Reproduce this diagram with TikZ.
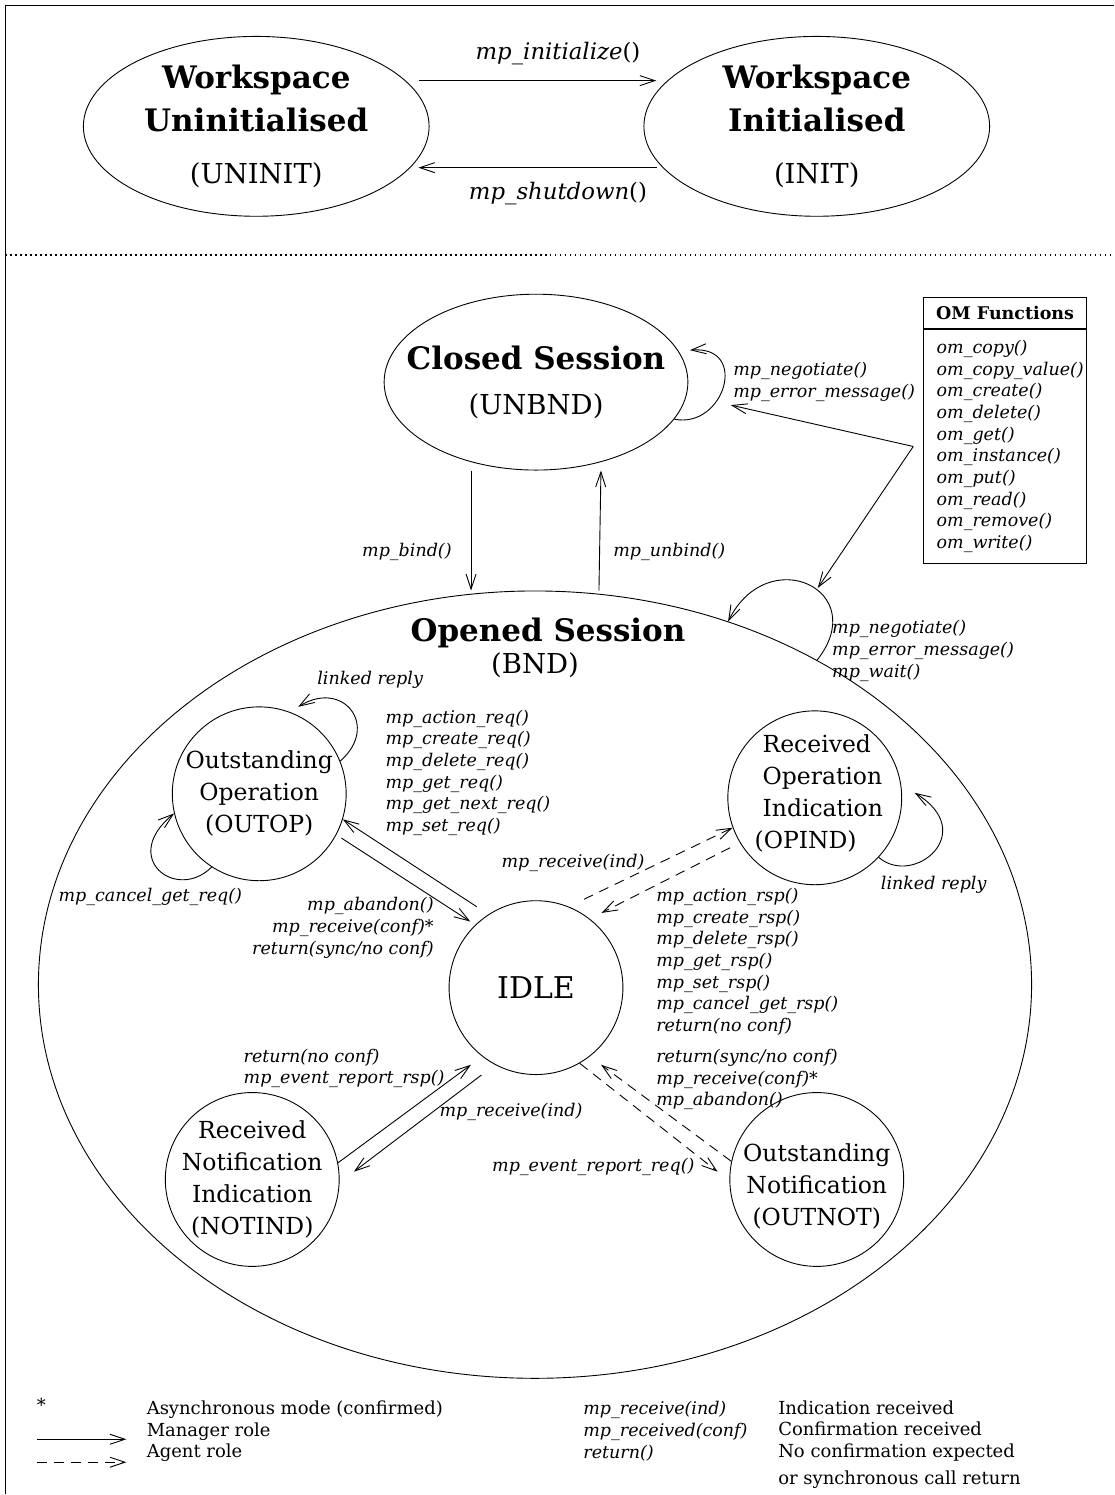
\documentclass[tikz,border=0pt]{standalone}
\usepackage{fontspec}
\setmainfont{DejaVu Serif}
\usetikzlibrary{calc,positioning,shapes.geometric,arrows.meta}
\newcommand{\fnstate}{\fontsize{31}{43}\selectfont\bfseries}
\newcommand{\fncode}{\fontsize{27.5}{34}\selectfont\mdseries}
\newcommand{\fncirc}{\fontsize{23.5}{32}\selectfont}
\newcommand{\fnidle}{\fontsize{30}{36}\selectfont}
\newcommand{\fntop}{\fontsize{22.8}{26}\selectfont}
\newcommand{\fnlbl}{\fontsize{17.5}{21.7}\selectfont\itshape}
\newcommand{\fnlgd}{\fontsize{18}{21.7}\selectfont}
\newcommand{\fnhead}{\fontsize{17.5}{20}\selectfont\bfseries}
\tikzset{
    bigstate/.style={draw,ellipse,inner sep=-30pt,align=center,font=\fnstate}, % workspace and session states
    circstate/.style={draw,circle,inner sep=-20pt,minimum size=174pt,align=center,font=\fncirc}, % states inside the session
    circtext/.style={font=\fncirc,inner sep=0pt},
    lbl/.style={inner sep=0pt,align=left,font=\fnlbl},
    mgr/.style={-{Straight Barb[length=15pt,width=10pt]}}, % manager role
    agt/.style={mgr,dash pattern=on 10pt off 7pt},          % agent role
}
\begin{document}
\begin{tikzpicture}[x=1pt,y=-1pt,line width=.9pt]
                    \draw[white,fill=white] (0,0) rectangle (1114,1495);
                    \draw[line width=1.6pt] (5,1495) -- (5,5) -- (1114,5);
                    \draw[line width=1.5pt,dash pattern=on 1.5pt off 3.5pt] (5,255) -- (1114,255);
                    % workspace
                    \node[bigstate,minimum width=346pt,minimum height=180pt] (uninit) at (256,126) {Workspace\\Uninitialised\\[9pt]{\fncode (UNINIT)}};
                    \node[bigstate,minimum width=346pt,minimum height=180pt] (init) at (817,126) {Workspace\\Initialised\\[9pt]{\fncode (INIT)}};
                    \draw[mgr,shorten <=13pt,shorten >=11pt] (uninit.17) -- (init.163);
                    \draw[mgr,shorten <=6pt,shorten >=8pt] (init.195) -- (uninit.-15);
                    \node[lbl,font=\fntop] (lblinit) at (558,53) {{\itshape mp\_initialize}()};
                    \node[lbl,font=\fntop] (lblshut) at (558,193) {{\itshape mp\_shutdown}()};
                    % sessions
                    \node[bigstate,minimum width=304pt,minimum height=176pt] (unbnd) at (536,382) {Closed Session\\[2pt]{\fncode (UNBND)}};
                    \node[draw,ellipse,minimum width=994pt,minimum height=788pt,inner sep=0pt] (bnd) at (535,985) {};
                    \node[font=\fnstate,inner sep=0pt] (bndname) at (548,633) {Opened Session};
                    \node[font=\fncode,inner sep=0pt] (bndcode) at (535,665) {(BND)};
                    \draw[mgr] ([xshift=-65pt]unbnd.south) -- ([xshift=-64pt]bnd.north);
                    \draw[mgr] ([xshift=64pt]bnd.north) -- ([xshift=65pt]unbnd.south);
                    \draw[mgr] (unbnd.-15) .. controls +(50,10) and +(60,-5) .. ($(unbnd)+(154,-32)$);
                    \draw[mgr] (bnd.49) .. controls +(55,-70) and +(40,-80) .. (bnd.62);
                    \node[lbl,anchor=east] (lblbind) at (452,552) {mp\_bind()};
                    \node[lbl,anchor=west] (lblunbind) at (613,552) {mp\_unbind()};
                    \node[lbl,anchor=west] (lblneg1) at (733,382) {mp\_negotiate()\\mp\_error\_message()};
                    \node[lbl,anchor=west] (lblneg2) at (832,651) {mp\_negotiate()\\mp\_error\_message()\\mp\_wait()};
                    % OM functions
                    \node[draw,minimum width=163pt,minimum height=31pt,inner sep=0pt,font=\fnhead] (omhead) at (1005.5,313) {OM Functions};
                    \node[draw,below=0pt of omhead,minimum width=163pt,minimum height=234pt,inner xsep=13pt,inner ysep=0pt,text width=137pt,align=left,font=\fnlbl] (omlist) {om\_copy()\\om\_copy\_value()\\om\_create()\\om\_delete()\\om\_get()\\om\_instance()\\om\_put()\\om\_read()\\om\_remove()\\om\_write()};
                    \coordinate (omjoint) at ([xshift=-10pt]omlist.west);
                    \coordinate (unbndloop) at (731,405);
                    \coordinate (bndloop) at (818,588);
                    \draw[mgr] (omjoint) -- (unbndloop);
                    \draw[mgr] (omjoint) -- (bndloop);
                    % states in the opened session
                    \node[circstate] (outop) at (259,794) {Outstanding\\Operation\\(OUTOP)};
                    \node[circstate,font=\fnidle] (idle) at (536,988) {IDLE};
                    \node[circstate,label={[circtext,align=left,xshift=8pt,yshift=4pt]center:{Received\\Operation\\Indication\\\hspace*{-8pt}(OPIND)}}] (opind) at (815,798) {};
                    \node[circstate] (notind) at (252,1180) {Received\\Notification\\Indication\\(NOTIND)};
                    \node[circstate,label={[circtext,align=center,yshift=-7pt]center:{Outstanding\\Notification\\(OUTNOT)}}] (outnot) at (817,1180) {};
                    \draw[mgr] (outop.22) .. controls +(40,-35) and +(45,-28) .. ($(outop)+(39,-87)$);
                    \draw[mgr] (outop.-123) .. controls +(-35,35) and +(-55,45) .. (outop.193);
                    \draw[mgr] (opind.-43) .. controls +(35,30) and +(65,40) .. ($(opind)+(100,-5)$);
                    \draw[mgr,shorten <=14pt] (idle.123) -- (outop.-17);
                    \draw[mgr,shorten <=6pt,shorten >=6pt] (outop.-28) -- (idle.134);
                    \draw[agt,shorten <=17pt] (idle.68) -- (opind.200);
                    \draw[agt,shorten <=11pt,shorten >=13pt] (opind.211) -- (idle.52);
                    \draw[mgr,shorten >=14pt] (notind.11) -- (idle.232);
                    \draw[mgr,shorten <=17pt,shorten >=18pt] (idle.242) -- (notind.-2);
                    \draw[agt,shorten >=15pt] (idle.-60) -- (outnot.181);
                    \draw[agt,shorten >=14pt] (outnot.168) -- (idle.-52);
                    \node[lbl] (lbllink1) at (370,680) {linked reply};
                    \node[lbl,anchor=west] (lblreq) at (385,773) {mp\_action\_req()\\mp\_create\_req()\\mp\_delete\_req()\\mp\_get\_req()\\mp\_get\_next\_req()\\mp\_set\_req()};
                    \node[lbl] (lblcancel) at (150,897) {mp\_cancel\_get\_req()};
                    \node[lbl,anchor=east,align=right] (lblabandon) at (434,928) {mp\_abandon()\\mp\_receive(conf)*\\return(sync/no conf)};
                    \node[lbl] (lblrecv1) at (573,863) {mp\_receive(ind)};
                    \node[lbl] (lbllink2) at (934,885) {linked reply};
                    \node[lbl,anchor=west] (lblrsp) at (656,962) {mp\_action\_rsp()\\mp\_create\_rsp()\\mp\_delete\_rsp()\\mp\_get\_rsp()\\mp\_set\_rsp()\\mp\_cancel\_get\_rsp()\\return(no conf)};
                    \node[lbl,anchor=west] (lblsync) at (656,1080) {return(sync/no conf)\\mp\_receive(conf)*\\mp\_abandon()};
                    \node[lbl,anchor=west] (lblnotrsp) at (243,1069) {return(no conf)\\mp\_event\_report\_rsp()};
                    \node[lbl,anchor=west] (lblrecv2) at (439,1112) {mp\_receive(ind)};
                    \node[lbl,anchor=east] (lblevreq) at (695,1167) {mp\_event\_report\_req()};
                    % legend
                    \node[font=\fnlgd,inner sep=0pt] (lgdstar) at (41,1406) {*};
                    \node[font=\fnlgd,inner sep=0pt,anchor=west,align=left] (lgdkey) at (146,1432) {Asynchronous mode (confirmed)\\Manager role\\Agent role};
                    \node[lbl,anchor=west] (lgdfun) at (583,1432) {mp\_receive(ind)\\mp\_received(conf)\\return()};
                    \node[font=\fnlgd,inner sep=0pt,anchor=west,align=left] (lgdmean) at (778,1445) {Indication received\\Confirmation received\\No confirmation expected\\[5pt]or synchronous call return};
                    \coordinate (mgrA) at (37,1440);
                    \coordinate (mgrB) at (126,1440);
                    \coordinate (agtA) at (37,1463);
                    \coordinate (agtB) at (126,1463);
                    \draw[mgr] (mgrA) -- (mgrB);
                    \draw[agt] (agtA) -- (agtB);
                \end{tikzpicture}
\end{document}
